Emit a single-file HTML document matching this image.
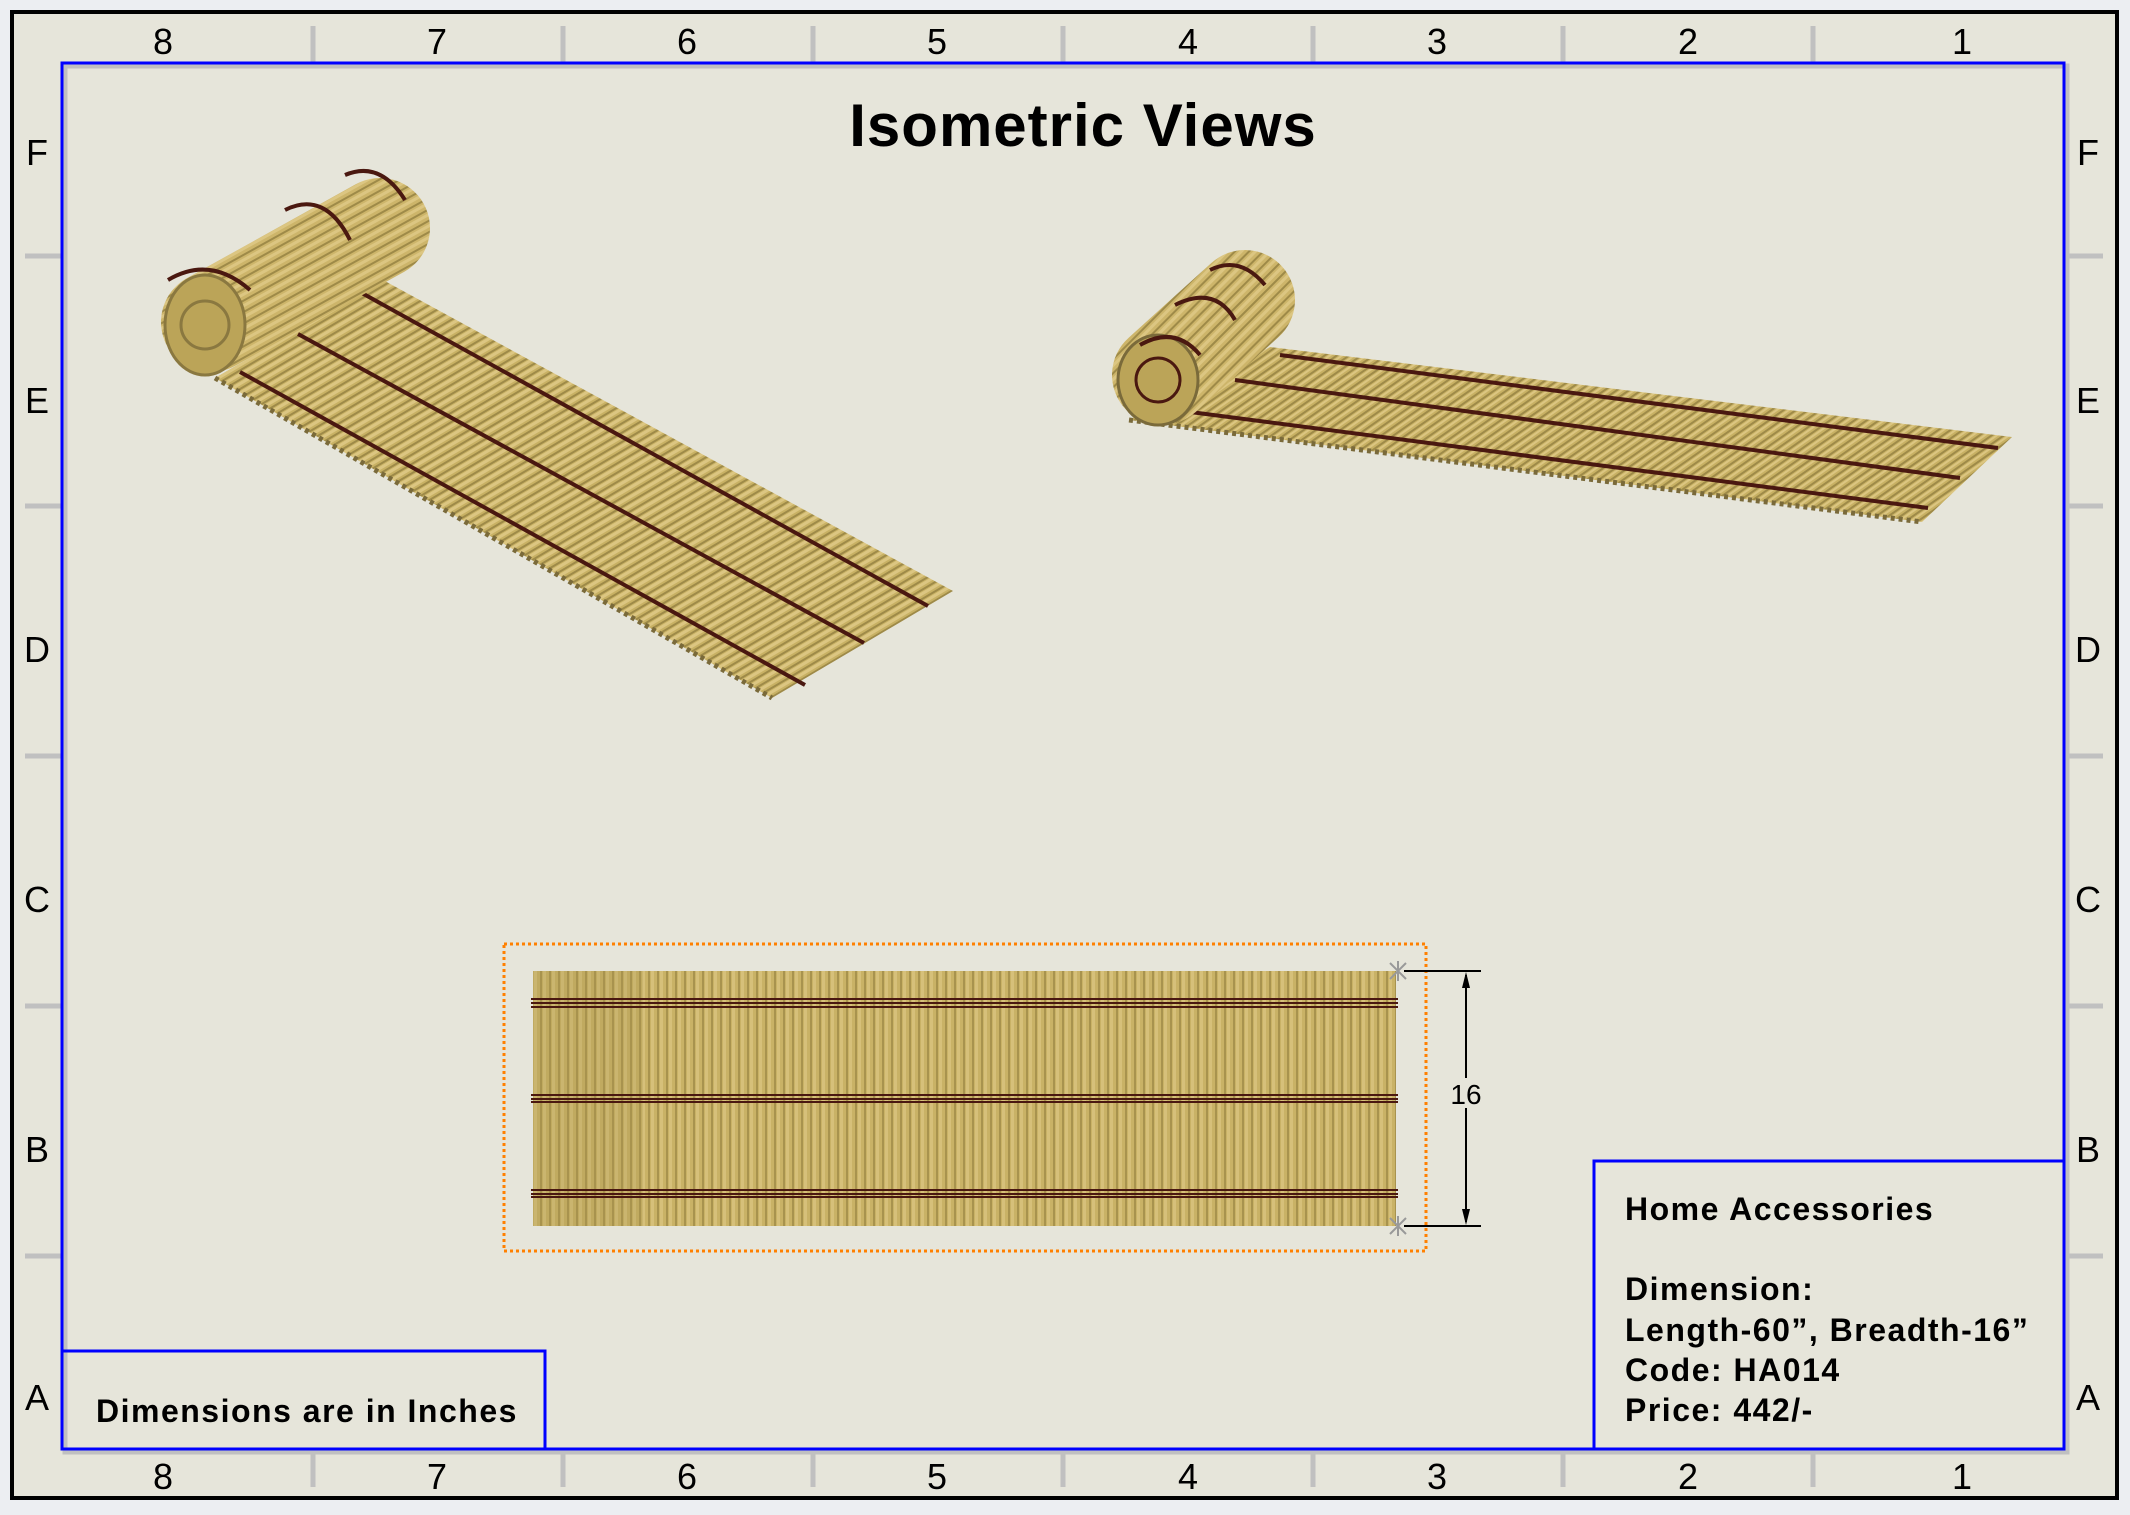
<!DOCTYPE html>
<html><head><meta charset="utf-8"><style>
html,body{margin:0;padding:0;}
body{width:2130px;height:1510px;overflow:hidden;background:#eceef2;font-family:"Liberation Sans",sans-serif;}
</style></head><body>
<svg width="2130" height="1510" viewBox="0 0 2130 1510" xmlns="http://www.w3.org/2000/svg">
<defs>
<pattern id="rodsV" width="9" height="10" patternUnits="userSpaceOnUse">
<rect width="9" height="10" fill="#c9b266"/>
<rect x="0" width="2" height="10" fill="#a8934e"/>
<rect x="3" width="3" height="10" fill="#d6c07a"/>
</pattern>
<pattern id="rodsA" width="8" height="10" patternUnits="userSpaceOnUse" patternTransform="rotate(59.4)">
<rect width="8" height="10" fill="#c8b164"/>
<rect x="0" width="2" height="10" fill="#9e8a48"/>
<rect x="3" width="3" height="10" fill="#dcc682"/>
</pattern>
<pattern id="rodsB" width="7" height="10" patternUnits="userSpaceOnUse" patternTransform="rotate(55)">
<rect width="7" height="10" fill="#c8b164"/>
<rect x="0" width="2" height="10" fill="#9e8a48"/>
<rect x="3" width="2" height="10" fill="#dcc682"/>
</pattern>
<pattern id="rollA" width="12" height="10" patternUnits="userSpaceOnUse" patternTransform="rotate(-29)">
<rect width="12" height="10" fill="#cdb56a"/>
<rect y="0" width="12" height="2" fill="#9e8a48"/>
<rect y="4" width="12" height="3" fill="#dcc682"/>
</pattern>
<pattern id="rollB" width="12" height="10" patternUnits="userSpaceOnUse" patternTransform="rotate(-45)">
<rect width="12" height="10" fill="#cdb56a"/>
<rect y="0" width="12" height="2" fill="#9e8a48"/>
<rect y="4" width="12" height="3" fill="#dcc682"/>
</pattern>
</defs>

<rect x="12" y="12" width="2105" height="1486" fill="#e6e5da" stroke="#000" stroke-width="4"/>

<g stroke="#c0c0c0" stroke-width="5">
<line x1="313" y1="26" x2="313" y2="62"/><line x1="563" y1="26" x2="563" y2="62"/><line x1="813" y1="26" x2="813" y2="62"/><line x1="1063" y1="26" x2="1063" y2="62"/><line x1="1313" y1="26" x2="1313" y2="62"/><line x1="1563" y1="26" x2="1563" y2="62"/><line x1="1813" y1="26" x2="1813" y2="62"/>
<line x1="313" y1="1451" x2="313" y2="1487"/><line x1="563" y1="1451" x2="563" y2="1487"/><line x1="813" y1="1451" x2="813" y2="1487"/><line x1="1063" y1="1451" x2="1063" y2="1487"/><line x1="1313" y1="1451" x2="1313" y2="1487"/><line x1="1563" y1="1451" x2="1563" y2="1487"/><line x1="1813" y1="1451" x2="1813" y2="1487"/>
<line x1="25" y1="256" x2="62" y2="256"/><line x1="25" y1="506" x2="62" y2="506"/><line x1="25" y1="756" x2="62" y2="756"/><line x1="25" y1="1006" x2="62" y2="1006"/><line x1="25" y1="1256" x2="62" y2="1256"/>
<line x1="2066" y1="256" x2="2103" y2="256"/><line x1="2066" y1="506" x2="2103" y2="506"/><line x1="2066" y1="756" x2="2103" y2="756"/><line x1="2066" y1="1006" x2="2103" y2="1006"/><line x1="2066" y1="1256" x2="2103" y2="1256"/>
</g>
<rect x="65" y="66" width="2002" height="1386" fill="none" stroke="#c0c0c0" stroke-width="5"/>
<rect x="62" y="63" width="2002" height="1386" fill="none" stroke="#0000ff" stroke-width="3"/>

<g font-size="36" fill="#000" text-anchor="middle" font-family="Liberation Sans, sans-serif">
<text x="163" y="54">8</text><text x="437" y="54">7</text><text x="687" y="54">6</text><text x="937" y="54">5</text><text x="1188" y="54">4</text><text x="1437" y="54">3</text><text x="1688" y="54">2</text><text x="1962" y="54">1</text>
<text x="163" y="1489">8</text><text x="437" y="1489">7</text><text x="687" y="1489">6</text><text x="937" y="1489">5</text><text x="1188" y="1489">4</text><text x="1437" y="1489">3</text><text x="1688" y="1489">2</text><text x="1962" y="1489">1</text>
<text x="37" y="165">F</text><text x="37" y="413">E</text><text x="37" y="662">D</text><text x="37" y="912">C</text><text x="37" y="1162">B</text><text x="37" y="1410">A</text>
<text x="2088" y="165">F</text><text x="2088" y="413">E</text><text x="2088" y="662">D</text><text x="2088" y="912">C</text><text x="2088" y="1162">B</text><text x="2088" y="1410">A</text>
</g>

<text x="1083" y="146" font-size="60" font-weight="bold" text-anchor="middle" letter-spacing="1">Isometric Views</text>

<polygon points="383,280 953,591 772,698 215,378" fill="url(#rodsA)"/>
<polyline points="215,378 772,698" fill="none" stroke="#7a6a3a" stroke-width="5" stroke-dasharray="4 4"/>
<g stroke="#4a1810" stroke-width="4" fill="none">
<line x1="360" y1="292" x2="928" y2="606"/>
<line x1="298" y1="334" x2="864" y2="643"/>
<line x1="240" y1="372" x2="805" y2="685"/>
</g>
<line x1="211" y1="322" x2="380" y2="228" stroke="url(#rollA)" stroke-width="100" stroke-linecap="round"/>
<ellipse cx="205" cy="325" rx="40" ry="50" fill="#bba458" stroke="#8a7840" stroke-width="3"/>
<circle cx="205" cy="325" r="24" fill="none" stroke="#8a7840" stroke-width="3"/>
<g stroke="#4a1810" stroke-width="4" fill="none">
<path d="M168 280 Q210 255 250 290"/><path d="M285 210 Q325 190 350 240"/><path d="M345 175 Q380 160 405 200"/>
</g>

<polygon points="1270,347 2012,437 1922,522 1129,420" fill="url(#rodsB)"/>
<polyline points="1129,420 1922,522" fill="none" stroke="#7a6a3a" stroke-width="5" stroke-dasharray="4 4"/>
<g stroke="#4a1810" stroke-width="4" fill="none">
<line x1="1280" y1="355" x2="1998" y2="448"/>
<line x1="1235" y1="380" x2="1960" y2="478"/>
<line x1="1175" y1="410" x2="1928" y2="508"/>
</g>
<line x1="1162" y1="375" x2="1245" y2="300" stroke="url(#rollB)" stroke-width="100" stroke-linecap="round"/>
<ellipse cx="1158" cy="380" rx="40" ry="45" fill="#bba458" stroke="#7a6a3a" stroke-width="3"/>
<circle cx="1158" cy="380" r="22" fill="none" stroke="#4a1810" stroke-width="3"/>
<g stroke="#4a1810" stroke-width="4" fill="none">
<path d="M1140 345 Q1175 325 1200 355"/><path d="M1175 305 Q1215 285 1235 320"/><path d="M1210 270 Q1240 255 1265 285"/>
</g>

<rect x="504" y="944" width="922" height="307" fill="none" stroke="#ff8000" stroke-width="3" stroke-dasharray="3 3"/>
<rect x="533" y="971" width="863" height="255" fill="url(#rodsV)"/>
<rect x="533" y="971" width="110" height="255" fill="#a8934e" opacity="0.25"/>
<g stroke="#4a1810" stroke-width="2">
<line x1="531" y1="999" x2="1398" y2="999"/><line x1="531" y1="1003" x2="1398" y2="1003"/><line x1="531" y1="1007" x2="1398" y2="1007"/>
<line x1="531" y1="1095" x2="1398" y2="1095"/><line x1="531" y1="1099" x2="1398" y2="1099"/><line x1="531" y1="1102" x2="1398" y2="1102"/>
<line x1="531" y1="1190" x2="1398" y2="1190"/><line x1="531" y1="1194" x2="1398" y2="1194"/><line x1="531" y1="1197" x2="1398" y2="1197"/>
</g>
<g stroke="#000" stroke-width="2">
<line x1="1404" y1="971" x2="1481" y2="971"/><line x1="1404" y1="1226" x2="1481" y2="1226"/>
<line x1="1466" y1="975" x2="1466" y2="1222"/>
</g>
<polygon points="1466,972 1462,988 1470,988" fill="#000"/>
<polygon points="1466,1225 1462,1209 1470,1209" fill="#000"/>
<g stroke="#999" stroke-width="2">
<line x1="1390" y1="963" x2="1406" y2="979"/><line x1="1406" y1="963" x2="1390" y2="979"/><line x1="1398" y1="961" x2="1398" y2="981"/>
<line x1="1390" y1="1218" x2="1406" y2="1234"/><line x1="1406" y1="1218" x2="1390" y2="1234"/><line x1="1398" y1="1216" x2="1398" y2="1236"/>
</g>
<rect x="1448" y="1078" width="36" height="30" fill="#e6e5da"/>
<text x="1466" y="1104" font-size="28" text-anchor="middle">16</text>

<rect x="62" y="1351" width="483" height="98" fill="none" stroke="#0000ff" stroke-width="3"/>
<text x="96" y="1422" font-size="32" font-weight="bold" letter-spacing="1.5">Dimensions are in Inches</text>

<rect x="1594" y="1161" width="470" height="288" fill="none" stroke="#0000ff" stroke-width="3"/>
<g font-size="32" font-weight="bold" letter-spacing="1.5">
<text x="1625" y="1220">Home Accessories</text>
<text x="1625" y="1300">Dimension:</text>
<text x="1625" y="1341">Length-60”, Breadth-16”</text>
<text x="1625" y="1381">Code: HA014</text>
<text x="1625" y="1421">Price: 442/-</text>
</g>
</svg>
</body></html>
